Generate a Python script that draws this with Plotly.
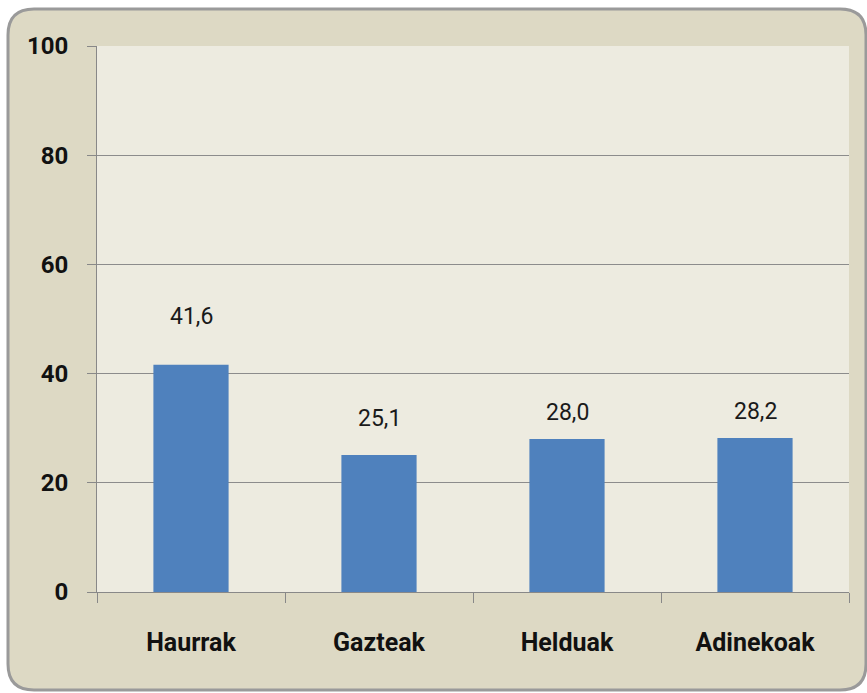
import plotly.graph_objects as go

categories = ["Haurrak", "Gazteak", "Helduak", "Adinekoak"]
values = [41.6, 25.1, 28.0, 28.2]
y_ticks = [0, 20, 40, 60, 80, 100]
label_shift_px = [48, 36, 27, 27]  # style: pixel offset of each value label above its bar

FONT = "Roboto, sans-serif"
W, H = 867, 693
L, R, T, B = 97, 18, 46, 101

fig = go.Figure()
fig.add_trace(go.Bar(
    x=categories, y=values,
    marker=dict(color="#4F81BD", line=dict(width=0)),
    width=0.4, hoverinfo="skip",
))

for c, v, s in zip(categories, values, label_shift_px):
    fig.add_annotation(
        x=c, y=v, text=f"{v:.1f}".replace(".", ","),
        showarrow=False, yanchor="middle", yshift=s,
        font=dict(family=FONT, size=23, color="#1a1a1a"),
    )

# rounded outer frame (pixel coordinates relative to plot-area bottom-left)
x0, x1 = 8 - L, 866 - L
y0, y1 = (H - B) - 690, (H - B) - 9
r = 26
path = (f"M {x0+r},{y1} L {x1-r},{y1} Q {x1},{y1} {x1},{y1-r} "
        f"L {x1},{y0+r} Q {x1},{y0} {x1-r},{y0} L {x0+r},{y0} "
        f"Q {x0},{y0} {x0},{y0+r} L {x0},{y1-r} Q {x0},{y1} {x0+r},{y1} Z")
fig.add_shape(type="path", path=path, xref="paper", yref="paper",
              xsizemode="pixel", ysizemode="pixel", xanchor=0, yanchor=0,
              fillcolor="#DDD9C4", line=dict(color="#9A9A9A", width=3),
              layer="below")
fig.add_shape(type="rect", xref="paper", yref="paper", x0=0, x1=1, y0=0, y1=1,
              fillcolor="#EDEBE0", line=dict(width=0), layer="below")

fig.update_layout(
    width=W, height=H,
    margin=dict(l=L, r=R, t=T, b=B, pad=0),
    paper_bgcolor="white", plot_bgcolor="rgba(0,0,0,0)",
    showlegend=False, bargap=0.6,
    font=dict(family=FONT, color="#111111"),
)
fig.update_xaxes(
    type="category", tickson="boundaries", ticks="outside", ticklen=10,
    tickcolor="#888888", tickwidth=1, showline=True, linecolor="#888888",
    linewidth=1, showgrid=False,
    tickfont=dict(family=FONT, size=25, color="#111111", weight="bold"),
    ticklabelstandoff=28,
)
fig.update_yaxes(
    range=[0, 100], tickvals=y_ticks, ticks="outside", ticklen=9,
    tickcolor="#888888", showline=True, linecolor="#888888", linewidth=1,
    showgrid=True, gridcolor="#8C8C8C", gridwidth=1, zeroline=False,
    tickfont=dict(family=FONT, size=24, color="#111111", weight="bold"),
    ticklabelstandoff=14,
)

fig.write_html("out.html", config={"displayModeBar": False},
               post_script="document.body.style.margin='0';document.body.style.overflow='hidden';")
